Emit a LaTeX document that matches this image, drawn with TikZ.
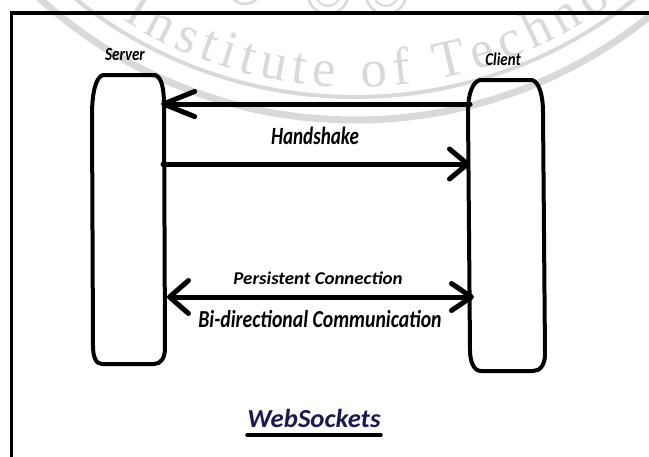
\documentclass[tikz,border=0pt]{standalone}
\usepackage{fontspec}
\setmainfont{Carlito}
\newfontfamily\sealfont{Liberation Serif}
\usetikzlibrary{arrows.meta,decorations.text}
\definecolor{sealgray}{HTML}{D9D9D9}
\definecolor{titlenavy}{HTML}{1A1A4E}

\tikzset{
  lane/.style={line width=4pt, line join=round, line cap=round},
  msg/.style={line width=5pt, line cap=round},
  lbl/.style={inner sep=0pt, anchor=base, font=\bfseries\itshape},
  seal/.style={sealgray},
}

\begin{document}
\begin{tikzpicture}[x=1pt,y=-1pt]
\useasboundingbox (0,0) rectangle (649,456);

% faint seal in the background
\begin{scope}[x=1pt,y=1pt]
  \draw[seal, line width=7pt] (355,350) circle[radius=470];
  \draw[seal, line width=4pt] (355,350) circle[radius=447];
  \path[decorate, decoration={text along path,
      text={|\sealfont\fontsize{53}{56}\selectfont\color{sealgray}|Institute of Techno},
      text align=fit to path}]
    (355,350) ++(237.8:437) arc[start angle=237.8, end angle=306, radius=437];
  \foreach \cx/\cy in {328/6, 386/6} {
    \draw[seal, line width=2.5pt] (\cx,\cy) circle[radius=20];
    \draw[seal, line width=2pt] (\cx,\cy) circle[radius=12];
  }
  \draw[seal, line width=2.5pt] (245,12) circle[radius=16];
\end{scope}

% outer frame
\draw[line width=3.5pt] (11.5,470) -- (11.5,13) -- (670,13);

% server lifeline box
\draw[lane] (103,75) -- (155,75)
  .. controls (162,77) and (164,90) .. (164,105)
  -- (165,348) .. controls (165,358) and (161,364) .. (154,364)
  -- (102,364) .. controls (96,364) and (93,357) .. (93,346)
  -- (92,115) .. controls (92,92) and (96,77) .. (103,75) -- cycle;

% client lifeline box
\draw[lane] (480,80) -- (532,80)
  .. controls (539,82) and (543,95) .. (543,112)
  -- (545,354) .. controls (545,365) and (540,371) .. (533,371)
  -- (481,371) .. controls (474,371) and (470,362) .. (470,350)
  -- (468,112) .. controls (468,95) and (472,82) .. (480,80) -- cycle;

% message end points on the lifelines
\coordinate (cliTop) at (470,104);
\coordinate (srvTop) at (161,104);
\coordinate (srvMid) at (163,164);
\coordinate (cliMid) at (470,164);
\coordinate (srvLow) at (167,297);
\coordinate (cliLow) at (474,297);

% labels
\node[lbl, font=\bfseries\itshape\fontsize{18.6}{20}\selectfont] (server) at (125,60) {\scalebox{.81}[1]{Server}};
\node[lbl, font=\bfseries\itshape\fontsize{18}{20}\selectfont] (client) at (503,65) {\scalebox{.83}[1]{Client}};
\node[lbl, font=\bfseries\itshape\fontsize{24.8}{26}\selectfont] (hs) at (315,144) {\scalebox{.77}[1]{Handshake}};
\node[lbl, font=\bfseries\itshape\fontsize{18}{20}\selectfont] (pc) at (318,284) {\scalebox{1.05}[1]{Persistent Connection}};
\node[lbl, font=\bfseries\itshape\fontsize{24.4}{26}\selectfont] (bd) at (320,327) {\scalebox{.81}[1]{Bi-directional Communication}};
\node[lbl, font=\bfseries\itshape\fontsize{26}{28}\selectfont, text=titlenavy] (ws) at (314,427) {\scalebox{1.03}[1]{WebSockets}};
\draw[line width=4pt, line cap=round] ([yshift=-8pt]ws.base west) -- ([yshift=-8pt]ws.base east);

% messages
\draw[msg, -{Straight Barb[length=31pt,width=25pt,round]}] (cliTop) -- (srvTop);
\draw[msg, -{Straight Barb[length=18pt,width=30pt,round]}] (srvMid) -- (cliMid);
\draw[msg, {Straight Barb[length=19pt,width=33pt,round]}-{Straight Barb[length=20pt,width=27pt,round]}] (srvLow) -- (cliLow);

\end{tikzpicture}
\end{document}
